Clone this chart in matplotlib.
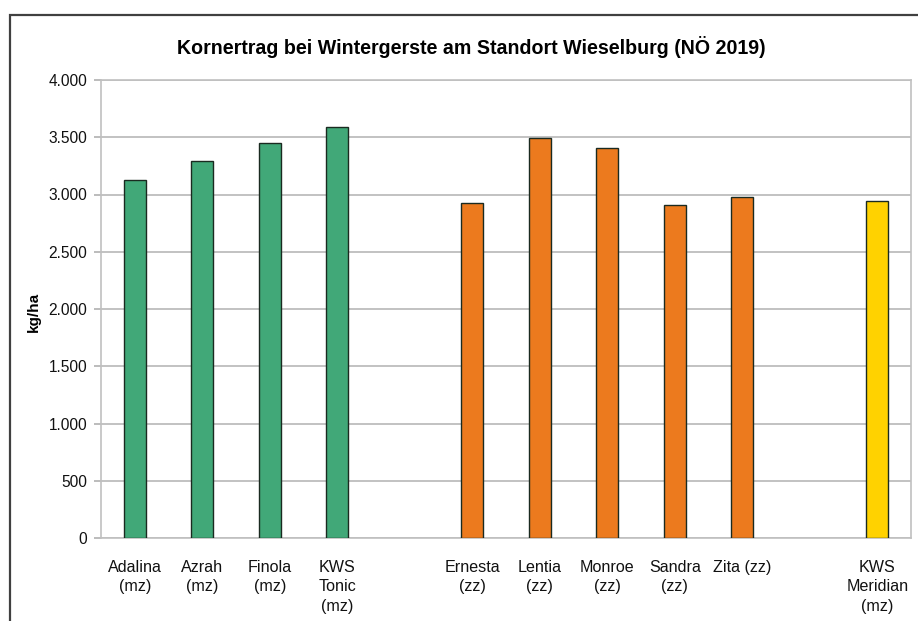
import matplotlib
matplotlib.use("Agg")
import matplotlib.pyplot as plt
from matplotlib.patches import Rectangle
from matplotlib.ticker import FuncFormatter

plt.rcParams['font.family'] = ['Liberation Sans', 'DejaVu Sans']

categories = ["Adalina\n(mz)", "Azrah\n(mz)", "Finola\n(mz)", "KWS\nTonic\n(mz)", "",
              "Ernesta\n(zz)", "Lentia\n(zz)", "Monroe\n(zz)", "Sandra\n(zz)", "Zita (zz)", "",
              "KWS\nMeridian\n(mz)"]
values = [3130, 3295, 3452, 3587, None, 2926, 3493, 3406, 2908, 2978, None, 2943]
groups = ["g", "g", "g", "g", None, "o", "o", "o", "o", "o", None, "y"]
group_colors = {"g": "#41a878", "o": "#ec7a1e", "y": "#ffd200"}
title = "Kornertrag bei Wintergerste am Standort Wieselburg (NÖ 2019)"
ylabel = "kg/ha"

fig = plt.figure(figsize=(9.18, 6.21), dpi=100)
W, H = 918, 621
ax = fig.add_axes([101 / W, 1 - 538 / H, (911 - 101) / W, (538 - 80) / H])

xs = list(range(len(categories)))
for x, v, g in zip(xs, values, groups):
    if v is None:
        continue
    ax.bar(x, v, width=0.32, color=group_colors[g], edgecolor="#1a2a20", linewidth=1.0, zorder=3)

ax.set_xlim(-0.5, len(categories) - 0.5)
ax.set_ylim(0, 4000)
ax.set_yticks(range(0, 4001, 500))
ax.yaxis.set_major_formatter(FuncFormatter(lambda v, p: f"{int(v):,}".replace(",", ".")))
ax.set_xticks(xs)
ax.set_xticklabels(categories, fontsize=11.6, color="#111111", linespacing=1.35)
ax.tick_params(axis="x", length=0, pad=16)
ax.tick_params(axis="y", length=5, color="#b0b0b0", width=1.2, labelsize=11.2, pad=5, labelcolor="#111111")
ax.grid(axis="y", color="#b8b8b8", linewidth=1.2, zorder=0)
for s in ["left", "right", "top", "bottom"]:
    ax.spines[s].set_color("#c0c0c0")
    ax.spines[s].set_linewidth(1.2)

fig.text(471 / W, 1 - 47 / H, title, ha="center", va="center", fontsize=14.1, fontweight="bold")
fig.text(34 / W, 1 - 312 / H, ylabel, ha="center", va="center", rotation=90, fontsize=11, fontweight="bold")

fig.patches.append(Rectangle((10 / W, -0.1), 1.2, 1 - 15 / H + 0.1, transform=fig.transFigure,
                             fill=False, edgecolor="#404040", linewidth=1.6))

fig.savefig("out.png", dpi=100)
